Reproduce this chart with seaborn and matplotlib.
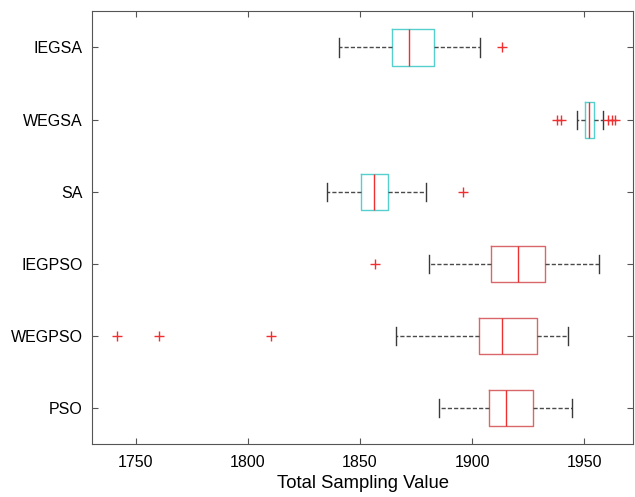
import numpy as np
import pandas as pd
import matplotlib
matplotlib.use("Agg")
import matplotlib.pyplot as plt
import seaborn as sns

# ---- data ----
methods = ["IEGSA", "WEGSA", "SA", "IEGPSO", "WEGPSO", "PSO"]
whisker_low = [1840.8, 1946.9, 1835.4, 1880.8, 1865.9, 1885.1]
q1 = [1864.1, 1950.4, 1850.6, 1908.4, 1903.3, 1907.7]
median = [1872.0, 1952.2, 1856.4, 1920.4, 1913.3, 1915.1]
q3 = [1883.1, 1954.3, 1862.6, 1932.6, 1928.9, 1927.0]
whisker_high = [1903.5, 1958.6, 1879.4, 1956.5, 1942.6, 1944.4]
outliers_low = [[], [1937.7, 1939.5], [], [1856.7], [1741.4, 1760.4, 1810.5], []]
outliers_high = [[1913.2], [1960.8, 1962.3, 1963.8], [1896.1], [], [], []]
x_ticks = [1750, 1800, 1850, 1900, 1950]
x_label = "Total Sampling Value"
box_colors = ["#55d0cc", "#55d0cc", "#55d0cc", "#d9666a", "#d9666a", "#d9666a"]

# ---- rebuild a sample per method whose box statistics equal the values above ----
k = 4
rows = []
for i, m in enumerate(methods):
    lo, hi = outliers_low[i], outliers_high[i]
    L, H = len(lo), len(hi)
    sample = (list(lo) + [whisker_low[i]] + [q1[i]] * (2 * k - 1 - L) + [median[i]]
              + [q3[i]] * (2 * k - H - 1) + [whisker_high[i]] + list(hi))
    rows += [(m, v) for v in sample]
df = pd.DataFrame(rows, columns=["method", "value"])

plt.rcParams["font.family"] = ["Liberation Sans", "DejaVu Sans"]
fig = plt.figure(figsize=(6.35, 4.97), dpi=100)
ax = fig.add_axes([0.1454, 0.1073, 0.9969 - 0.1454, 0.9769 - 0.1073])

sns.boxplot(
    data=df, x="value", y="method", hue="method", order=methods, hue_order=methods,
    palette=dict(zip(methods, box_colors)), fill=False, saturation=1, width=0.5,
    whis=1.5, linewidth=1.0, legend=False, ax=ax,
    medianprops=dict(color="#f03030", linewidth=1.0),
    whiskerprops=dict(color="#4a4a4a", linestyle=(0, (3, 1.5)), linewidth=1.0),
    capprops=dict(color="#3a3a3a", linewidth=1.0),
    flierprops=dict(marker="+", markeredgecolor="#f03030", markersize=7, markeredgewidth=1.0),
)

ax.set_xlim(1730.6, 1971.8)
ax.set_ylim(5.5, -0.5)
ax.set_xticks(x_ticks)
ax.set_xlabel(x_label, fontsize=13.3, labelpad=4)
ax.set_ylabel("")
ax.tick_params(direction="in", top=True, right=True, length=4, width=0.8,
               color="#555555", labelsize=11.5)
ax.tick_params(axis="x", pad=8)
ax.tick_params(axis="y", pad=7)
for s in ax.spines.values():
    s.set_visible(True)
    s.set_color("#555555")
    s.set_linewidth(0.8)

fig.savefig("out.png", dpi=100)
